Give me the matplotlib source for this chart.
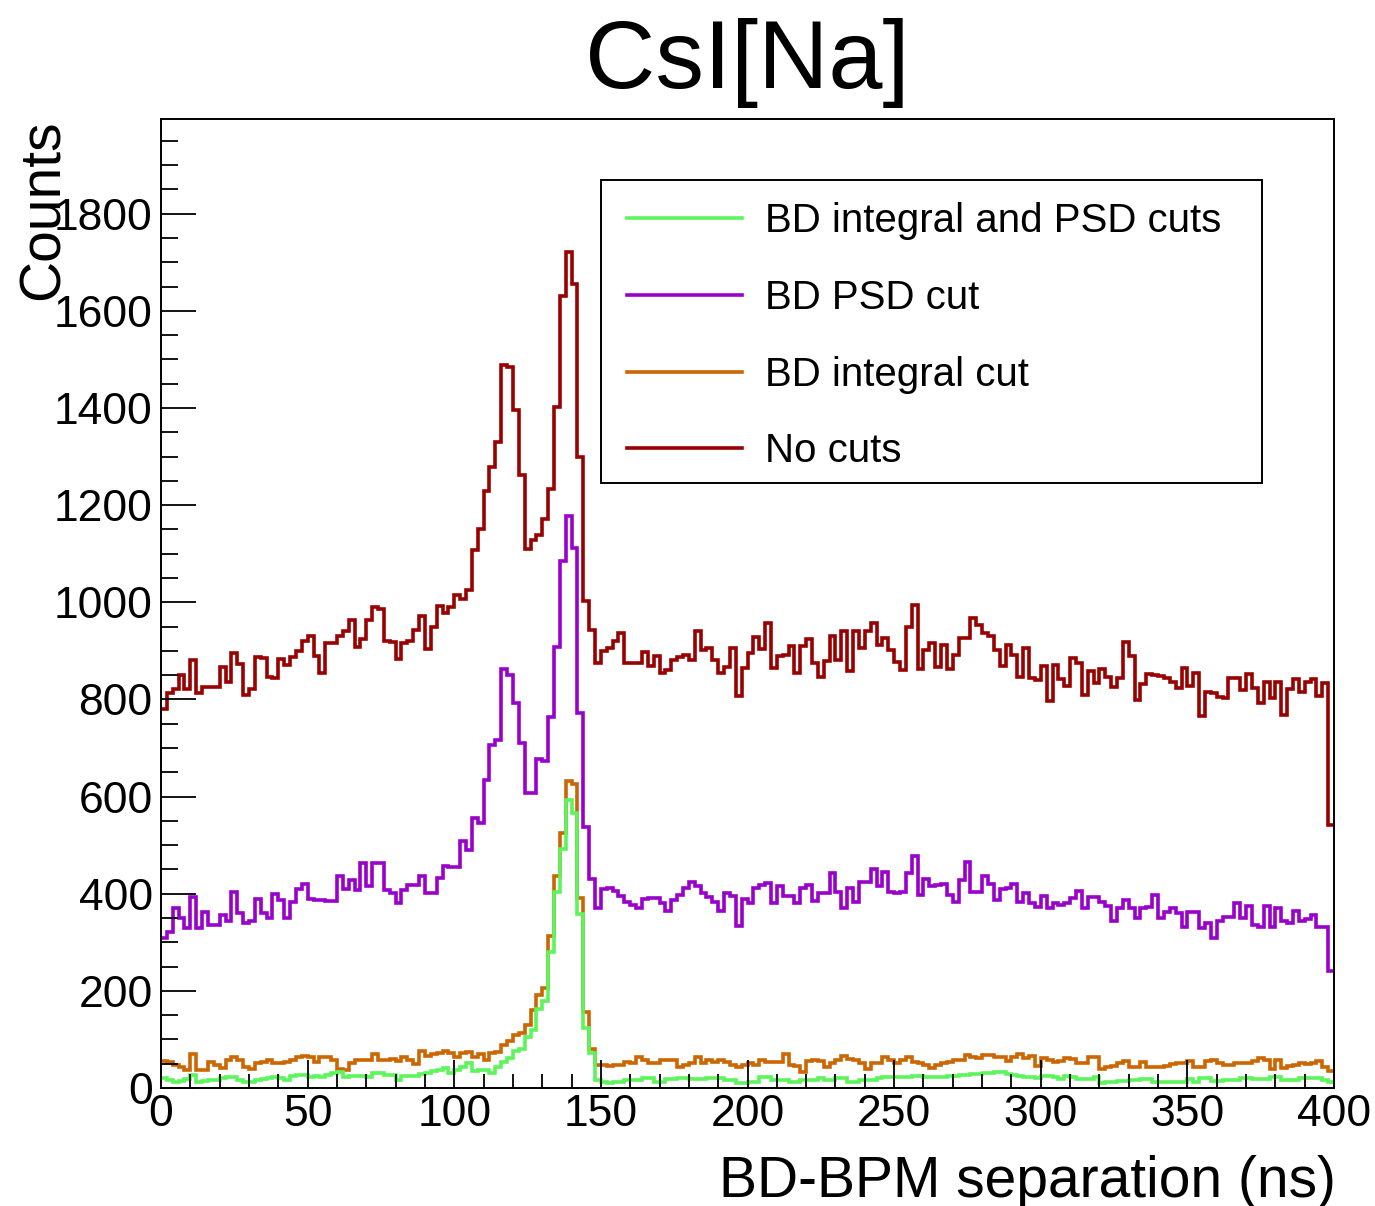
import numpy as np
import matplotlib
matplotlib.use('Agg')
import matplotlib.pyplot as plt
from matplotlib.patches import Rectangle

plt.rcParams['font.family'] = ['Liberation Sans', 'DejaVu Sans']

# 2 ns bins, 0 - 400 ns
bin_edges = np.arange(0, 402, 2)

# counts per bin
no_cuts = [780, 813, 821, 850, 822, 881, 814, 825, 826, 826, 866, 835, 896, 874, 809, 822, 888, 886, 847, 845,
           884, 871, 888, 899, 921, 930, 889, 854, 916, 916, 930, 941, 963, 909, 924, 964, 991, 986, 920, 919,
           883, 917, 920, 943, 971, 903, 950, 993, 979, 990, 1015, 1007, 1025, 1107, 1150, 1230, 1278, 1331, 1489, 1484,
           1396, 1262, 1109, 1128, 1138, 1172, 1233, 1402, 1630, 1722, 1655, 1299, 1002, 943, 876, 900, 905, 920, 936, 876,
           876, 876, 898, 869, 889, 854, 860, 882, 887, 891, 882, 940, 901, 905, 881, 855, 866, 907, 807, 864,
           896, 928, 903, 957, 864, 889, 891, 910, 854, 910, 924, 875, 846, 879, 931, 882, 940, 859, 940, 905,
           940, 957, 912, 926, 902, 878, 860, 950, 995, 862, 901, 917, 866, 912, 862, 891, 926, 926, 967, 953,
           937, 931, 902, 869, 912, 891, 846, 905, 844, 840, 869, 796, 871, 842, 827, 885, 876, 809, 859, 833,
           862, 847, 825, 844, 919, 889, 799, 832, 853, 850, 848, 844, 835, 823, 865, 827, 855, 766, 816, 813,
           806, 803, 844, 844, 820, 853, 823, 793, 837, 803, 837, 768, 821, 842, 816, 837, 842, 807, 833, 542]

psd_cut = [308, 322, 370, 350, 330, 394, 330, 363, 336, 336, 356, 343, 404, 361, 339, 343, 390, 360, 350, 399,
           388, 350, 384, 409, 420, 390, 388, 387, 386, 386, 437, 409, 428, 408, 463, 416, 463, 463, 408, 402,
           382, 408, 418, 418, 437, 402, 401, 432, 457, 455, 455, 509, 491, 557, 545, 634, 706, 717, 862, 851,
           793, 711, 608, 607, 677, 674, 764, 909, 1086, 1178, 1111, 773, 537, 430, 370, 410, 412, 405, 395, 384,
           377, 370, 389, 391, 391, 382, 365, 388, 398, 411, 425, 416, 402, 394, 384, 365, 402, 395, 334, 389,
           382, 411, 418, 423, 382, 416, 395, 395, 382, 411, 418, 386, 401, 401, 443, 404, 370, 411, 384, 425,
           425, 452, 415, 445, 404, 401, 404, 443, 478, 398, 430, 416, 418, 420, 398, 384, 428, 465, 404, 404,
           436, 421, 387, 409, 412, 420, 384, 401, 380, 372, 395, 370, 382, 377, 382, 392, 406, 370, 394, 394,
           384, 375, 343, 370, 387, 370, 350, 370, 373, 398, 350, 363, 370, 360, 332, 363, 363, 329, 339, 308,
           343, 353, 353, 382, 350, 375, 336, 332, 375, 332, 370, 343, 339, 365, 343, 348, 356, 332, 332, 242]

integral_cut = [56, 54, 48, 44, 37, 71, 37, 37, 54, 48, 41, 58, 63, 58, 44, 39, 51, 54, 58, 51,
                52, 54, 58, 63, 66, 64, 54, 64, 63, 58, 40, 38, 52, 57, 57, 57, 70, 58, 58, 60,
                55, 63, 57, 50, 77, 67, 70, 73, 77, 72, 63, 73, 75, 63, 70, 57, 73, 75, 89, 96,
                110, 113, 130, 160, 191, 207, 314, 437, 526, 633, 627, 392, 157, 81, 47, 47, 45, 48, 47, 54,
                52, 63, 58, 52, 52, 58, 58, 58, 44, 47, 51, 63, 51, 58, 54, 58, 54, 47, 44, 47,
                51, 47, 58, 54, 54, 54, 71, 47, 45, 34, 56, 58, 55, 44, 52, 58, 66, 59, 58, 51,
                40, 52, 52, 63, 58, 52, 58, 64, 54, 51, 47, 42, 47, 51, 54, 58, 58, 68, 64, 61,
                68, 68, 63, 63, 56, 64, 70, 61, 66, 45, 61, 58, 54, 56, 61, 59, 52, 51, 64, 63,
                40, 44, 45, 51, 56, 44, 43, 54, 44, 44, 44, 45, 49, 51, 52, 56, 43, 43, 56, 58,
                51, 47, 47, 52, 52, 52, 56, 61, 58, 40, 58, 41, 45, 47, 51, 49, 52, 56, 44, 36]

both_cuts = [20, 17, 13, 15, 18, 27, 13, 15, 17, 17, 20, 23, 22, 17, 13, 13, 17, 18, 20, 23,
             20, 17, 25, 27, 27, 23, 25, 23, 27, 30, 33, 23, 24, 25, 25, 22, 30, 30, 27, 27,
             17, 25, 25, 24, 28, 32, 36, 37, 41, 32, 37, 44, 52, 36, 37, 37, 32, 44, 53, 61,
             77, 80, 106, 120, 162, 179, 280, 403, 493, 593, 566, 359, 123, 73, 17, 12, 10, 13, 12, 16,
             16, 16, 20, 20, 13, 13, 18, 18, 20, 20, 18, 18, 18, 20, 20, 20, 16, 16, 10, 10,
             13, 13, 22, 22, 16, 16, 16, 13, 13, 16, 16, 16, 20, 16, 16, 20, 20, 13, 13, 16,
             16, 17, 20, 23, 23, 22, 22, 22, 25, 24, 23, 23, 22, 22, 25, 25, 27, 27, 29, 29,
             30, 30, 33, 33, 29, 27, 25, 23, 23, 20, 25, 25, 22, 18, 25, 23, 18, 18, 18, 22,
             10, 13, 13, 15, 15, 16, 16, 18, 18, 13, 13, 13, 13, 13, 13, 18, 13, 20, 20, 15,
             15, 16, 16, 16, 20, 20, 18, 18, 18, 22, 22, 16, 16, 16, 20, 20, 20, 20, 16, 13]

labels = ['BD integral and PSD cuts', 'BD PSD cut', 'BD integral cut', 'No cuts']
colors = ['#5cf55c', '#9900cc', '#cc6600', '#990000']

fig = plt.figure(figsize=(13.75, 12.06), dpi=100)
ax = fig.add_axes([0.1171, 0.0978, 0.8531, 0.8035])

# draw order: no cuts at the back, tightest cut on top
series = [both_cuts, psd_cut, integral_cut, no_cuts]
for i in [3, 1, 2, 0]:
    ax.stairs(series[i], bin_edges, color=colors[i], lw=2.6, baseline=None)

ax.set_xlim(0, 400)
ax.set_ylim(0, 1995)
ax.set_xticks(np.arange(0, 401, 50))
ax.set_xticks(np.arange(0, 401, 10), minor=True)
ax.set_yticks(np.arange(0, 1801, 200))
ax.set_yticks(np.arange(0, 1996, 50), minor=True)
ax.tick_params(which='both', direction='in', top=False, right=False, labelsize=32, width=1.3)
ax.tick_params(axis='x', which='major', length=20, pad=4)
ax.tick_params(axis='x', which='minor', length=10)
ax.tick_params(axis='y', which='major', length=25, pad=6)
ax.tick_params(axis='y', which='minor', length=12)
for s in ax.spines.values():
    s.set_linewidth(1.4)

# legend box (ROOT TLegend look)
ax.add_patch(Rectangle((0.3751, 0.6244), 0.5635, 0.3126, transform=ax.transAxes,
                       fill=False, lw=1.4, ec='black', zorder=5))
row_y = [0.8978, 0.8184, 0.7389, 0.6605]
for lab, col, yy in zip(labels, colors, row_y):
    ax.plot([0.3973, 0.4953], [yy, yy], transform=ax.transAxes, color=col, lw=2.6, zorder=6)
    ax.text(0.5149, yy - 0.003, lab, transform=ax.transAxes, fontsize=29, va='center', ha='left', zorder=6)

fig.text(0.5436, 0.927, 'CsI[Na]', fontsize=70, ha='center', va='baseline')
fig.text(0.9716, 0.0075, 'BD-BPM separation (ns)', fontsize=41, ha='right', va='baseline')
ax.text(-0.10, 1.0, 'Counts', transform=ax.transAxes, fontsize=41, rotation=90,
        ha='center', va='top')

fig.savefig('out.png', dpi=100)
